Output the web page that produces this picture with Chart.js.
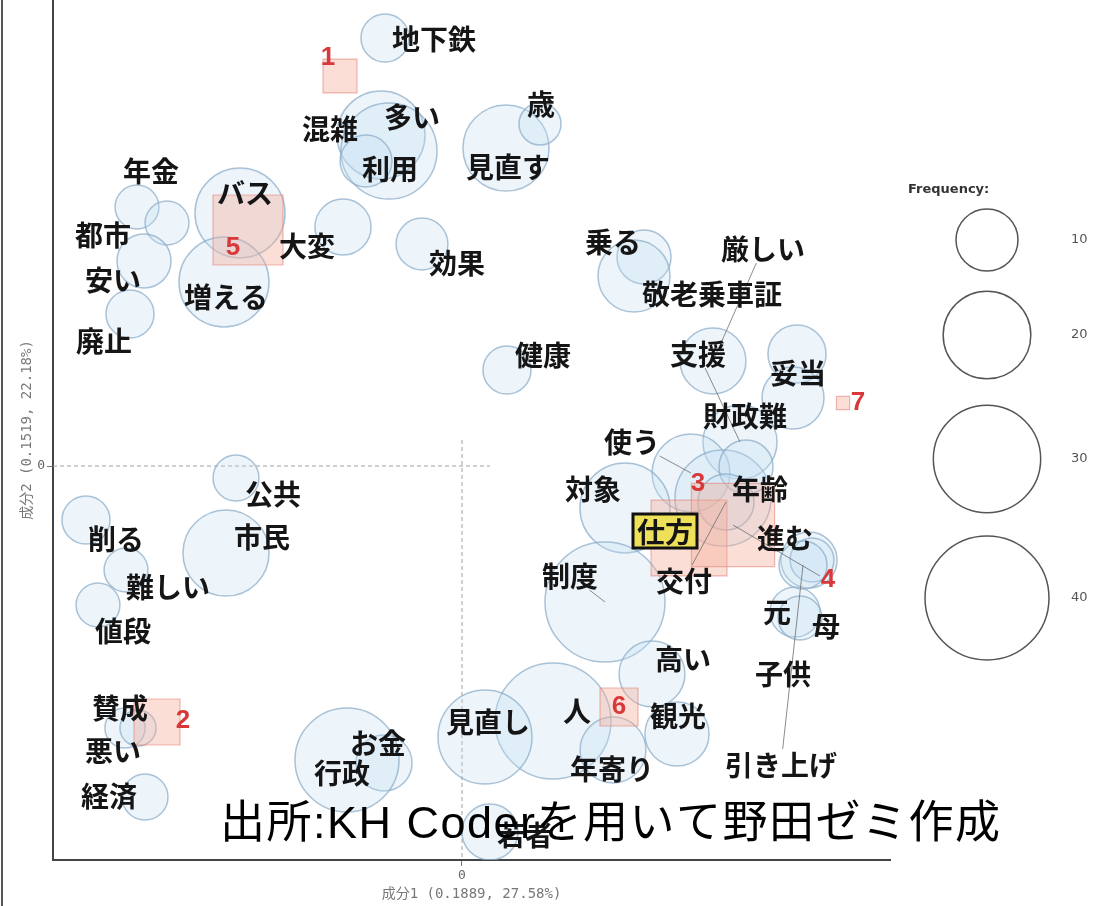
<!DOCTYPE html>
<html>
<head>
<meta charset="utf-8">
<script src="https://cdn.jsdelivr.net/npm/chart.js@4.4.1/dist/chart.umd.min.js"></script>
<style>
  body { margin: 0; background: #fff; }
  #wrap { width: 1101px; height: 906px; }
</style>
</head>
<body>
<div id="wrap"><canvas id="graficoBurbujas" width="1101" height="906"></canvas></div>
<script>
// words (bubbles): coordinates on 成分1 / 成分2, frequency, label anchor
var words = ['地下鉄','多い','利用','混雑','見直す','歳','年金','都市','安い','廃止','バス','増える','大変','効果','健康','乗る','敬老乗車証','厳しい','支援','妥当','財政難','使う','年齢','仕方','交付','進む','対象','子供','元','母','引き上げ','制度','高い','人','観光','年寄り','見直し','若者','お金','行政','公共','市民','削る','難しい','値段','賛成','悪い','経済'];
var wordX = [-0.385,-0.405,-0.365,-0.48,0.22,0.39,-1.625,-1.475,-1.59,-1.66,-1.11,-1.19,-0.595,-0.2,0.225,0.91,0.86,1.255,1.39,1.675,1.655,1.145,1.305,1.42,1.32,1.735,0.815,1.75,1.665,1.69,1.705,0.715,0.95,0.455,1.075,0.755,0.115,0.14,-0.39,-0.575,-1.13,-1.18,-1.88,-1.68,-1.82,-1.685,-1.62,-1.585];
var wordY = [2.14,1.655,1.575,1.525,1.59,1.71,1.295,1.215,1.025,0.76,1.265,0.92,1.195,1.11,0.48,1.045,0.95,0.525,0.12,0.56,0.34,-0.035,-0.16,-0.005,-0.18,-0.47,-0.21,-0.47,-0.73,-0.76,-0.495,-0.68,-1.04,-1.275,-1.34,-1.42,-1.355,-1.83,-1.485,-1.47,-0.06,-0.435,-0.27,-0.52,-0.695,-1.31,-1.31,-1.655];
var wordFreq = [6,20.2,24,7,19.3,4.6,5,5,7.6,6,21.1,21.1,8.2,7,6,7.6,13.5,11.3,14.3,8.8,10,15.8,24,7.6,8.2,8.2,21.1,5,6.5,5,6,37.5,11.3,35,10.7,11.3,23,8.2,8.2,28.2,5.5,19.3,6,5,5,4.2,3.4,5.5];
var labelX = [-0.14,-0.25,-0.36,-0.66,0.23,0.395,-1.555,-1.795,-1.745,-1.79,-1.085,-1.18,-0.775,-0.025,0.405,0.755,1.25,1.505,1.18,1.68,1.415,0.85,1.49,1.015,1.11,1.615,0.655,1.605,1.575,1.82,1.595,0.54,1.105,0.575,1.08,0.75,0.13,0.315,-0.42,-0.6,-0.945,-1.0,-1.73,-1.47,-1.695,-1.71,-1.745,-1.765];
var labelY = [2.14,1.75,1.49,1.69,1.5,1.815,1.48,1.16,0.935,0.63,1.37,0.85,1.105,1.02,0.56,1.125,0.865,1.09,0.565,0.47,0.255,0.125,-0.11,-0.325,-0.57,-0.355,-0.11,-1.035,-0.725,-0.795,-1.49,-0.545,-0.96,-1.22,-1.245,-1.51,-1.275,-1.84,-1.38,-1.53,-0.135,-0.35,-0.36,-0.6,-0.82,-1.205,-1.42,-1.645];
var conLinea = ['厳しい','支援','使う','制度','引き上げ','交付'];
var destacado = '仕方';

// outer variables (squares)
var variables = ['1','2','3','4','5','6','7'];
var varX = [-0.61,-1.525,1.135,1.355,-1.07,0.785,1.905];
var varY = [1.95,-1.28,-0.36,-0.295,1.18,-1.205,0.315];
var varFreq = [6,11,30,36,25.5,7.5,0.9];
var varLabelX = [-0.67,-1.395,1.18,1.83,-1.145,0.785,1.98];
var varLabelY = [2.04,-1.275,-0.09,-0.57,1.09,-1.205,0.315];
var varConLinea = ['4'];

var leyendaFreq = [10, 20, 30, 40];

function radio(f) { return 9.8 * Math.sqrt(f); }

var fuenteTexto = '"Noto Sans CJK JP", sans-serif';
var fuenteEje = '"DejaVu Sans Mono", "Noto Sans CJK JP", monospace';

var puntos = [];
for (var i = 0; i < words.length; i++) {
  puntos.push({ x: wordX[i], y: wordY[i], r: radio(wordFreq[i]) });
}
var cuadros = [];
for (var i = 0; i < variables.length; i++) {
  cuadros.push({ x: varX[i], y: varY[i], r: radio(varFreq[i]) });
}

var textoPlugin = {
  id: 'textos',
  beforeDraw: function(chart) {
    var ctx = chart.ctx;
    ctx.save();
    ctx.fillStyle = '#fff';
    ctx.fillRect(0, 0, chart.width, chart.height);
    ctx.strokeStyle = '#555';
    ctx.lineWidth = 2;
    ctx.beginPath();
    ctx.moveTo(2, 0);
    ctx.lineTo(2, chart.height);
    ctx.stroke();
    ctx.restore();
  },
  afterDatasetsDraw: function(chart) {
    var ctx = chart.ctx;
    var sx = chart.scales.x, sy = chart.scales.y;
    ctx.save();
    ctx.font = 'bold 28px ' + fuenteTexto;
    ctx.textAlign = 'center';
    ctx.textBaseline = 'middle';

    // leader lines from labels to their bubbles
    ctx.strokeStyle = 'rgba(110,110,110,0.8)';
    ctx.lineWidth = 1;
    conLinea.forEach(function(w) {
      var i = words.indexOf(w);
      var lx = sx.getPixelForValue(labelX[i]), ly = sy.getPixelForValue(labelY[i]);
      var bx = sx.getPixelForValue(wordX[i]), by = sy.getPixelForValue(wordY[i]);
      var hw = ctx.measureText(w).width / 2 + 2, hh = 15;
      var dx = bx - lx, dy = by - ly;
      var t = Math.min(dx ? hw / Math.abs(dx) : 1, dy ? hh / Math.abs(dy) : 1);
      ctx.beginPath();
      ctx.moveTo(lx + dx * t, ly + dy * t);
      ctx.lineTo(bx, by);
      ctx.stroke();
    });
    varConLinea.forEach(function(v) {
      var i = variables.indexOf(v);
      ctx.beginPath();
      ctx.moveTo(sx.getPixelForValue(varX[i]), sy.getPixelForValue(varY[i]));
      ctx.lineTo(sx.getPixelForValue(varLabelX[i]) - 8, sy.getPixelForValue(varLabelY[i]) - 4);
      ctx.stroke();
    });

    // word labels
    for (var i = 0; i < words.length; i++) {
      var x = sx.getPixelForValue(labelX[i]), y = sy.getPixelForValue(labelY[i]);
      if (words[i] === destacado) {
        var w = ctx.measureText(words[i]).width;
        ctx.fillStyle = '#efe05a';
        ctx.fillRect(x - w / 2 - 4, y - 17, w + 8, 34);
        ctx.strokeStyle = '#111';
        ctx.lineWidth = 3;
        ctx.strokeRect(x - w / 2 - 4, y - 17, w + 8, 34);
      }
      ctx.fillStyle = '#151515';
      ctx.fillText(words[i], x, y + 1);
    }

    // variable numbers
    ctx.font = 'bold 26px "Liberation Sans", Arial, sans-serif';
    ctx.fillStyle = '#d8383a';
    for (var i = 0; i < variables.length; i++) {
      ctx.fillText(variables[i], sx.getPixelForValue(varLabelX[i]), sy.getPixelForValue(varLabelY[i]));
    }
    ctx.restore();
  },
  afterDraw: function(chart) {
    var ctx = chart.ctx;
    ctx.save();
    // frequency legend
    var cx = 987;
    var cy = [240, 335, 459, 598];
    ctx.font = 'bold 13px "DejaVu Sans", sans-serif';
    ctx.fillStyle = '#333';
    ctx.textAlign = 'left';
    ctx.textBaseline = 'middle';
    ctx.fillText('Frequency:', 908, 190);
    ctx.font = '13px "DejaVu Sans", sans-serif';
    ctx.strokeStyle = '#555';
    ctx.lineWidth = 1.5;
    leyendaFreq.forEach(function(f, k) {
      ctx.beginPath();
      ctx.arc(cx, cy[k], radio(f), 0, Math.PI * 2);
      ctx.stroke();
      ctx.fillStyle = '#555';
      ctx.fillText(String(f), 1071, cy[k]);
    });

    // source note
    ctx.font = '45px "Liberation Sans", "Noto Sans CJK JP", sans-serif';
    ctx.letterSpacing = '1.5px';
    ctx.fillStyle = '#000';
    ctx.textAlign = 'left';
    ctx.fillText('出所:KH Coderを用いて野田ゼミ作成', 220, 826);
    ctx.restore();
  }
};

const ctx = document.getElementById('graficoBurbujas').getContext('2d');
const myChart = new Chart(ctx, {
  type: 'bubble',
  data: {
    datasets: [{
      label: 'variables',
      data: cuadros,
      pointStyle: 'rect',
      backgroundColor: 'rgba(244,170,150,0.38)',
      borderColor: 'rgba(225,125,115,0.55)',
      borderWidth: 1.2
    }, {
      label: 'palabras',
      data: puntos,
      backgroundColor: 'rgba(195,222,242,0.3)',
      borderColor: 'rgba(135,170,198,0.7)',
      borderWidth: 1.5
    }, {
      type: 'line',
      label: 'eje0h',
      data: [{ x: -2.045, y: 0 }, { x: 0.14, y: 0 }],
      borderColor: '#a0a0a0',
      borderWidth: 1,
      borderDash: [4, 3],
      pointRadius: 0
    }, {
      type: 'line',
      label: 'eje0v',
      data: [{ x: 0, y: 0.13 }, { x: 0, y: -1.97 }],
      borderColor: '#a0a0a0',
      borderWidth: 1,
      borderDash: [4, 3],
      pointRadius: 0
    }]
  },
  options: {
    responsive: false,
    animation: false,
    layout: { autoPadding: false, padding: { left: 0, right: 211, top: 0, bottom: 0 } },
    plugins: { legend: { display: false }, tooltip: { enabled: false } },
    scales: {
      x: {
        type: 'linear',
        min: -2.045,
        max: 2.14,
        afterBuildTicks: function(axis) { axis.ticks = [{ value: 0 }]; },
        afterFit: function(scale) { scale.height = 46; scale.paddingLeft = 0; scale.paddingRight = 0; },
        grid: { display: true, drawOnChartArea: false, drawTicks: true, tickLength: 6, color: '#777' },
        border: { display: true, color: '#444', width: 2 },
        ticks: { color: '#666', font: { size: 13, family: fuenteEje }, padding: 2 },
        title: { display: true, text: '成分1 (0.1889, 27.58%)', color: '#777', font: { size: 14, family: fuenteEje }, padding: { top: 0, bottom: 3 } }
      },
      y: {
        type: 'linear',
        min: -1.97,
        max: 2.33,
        afterBuildTicks: function(axis) { axis.ticks = [{ value: 0 }]; },
        afterFit: function(scale) { scale.width = 53; scale.paddingTop = 0; scale.paddingBottom = 0; },
        grid: { display: true, drawOnChartArea: false, drawTicks: true, tickLength: 6, color: '#777' },
        border: { display: true, color: '#444', width: 2 },
        ticks: { color: '#666', font: { size: 13, family: fuenteEje }, padding: 2 },
        title: { display: true, text: '成分2 (0.1519, 22.18%)', color: '#777', font: { size: 14, family: fuenteEje }, padding: { top: 19, bottom: 0 } }
      }
    }
  },
  plugins: [textoPlugin]
});
</script>
</body>
</html>
